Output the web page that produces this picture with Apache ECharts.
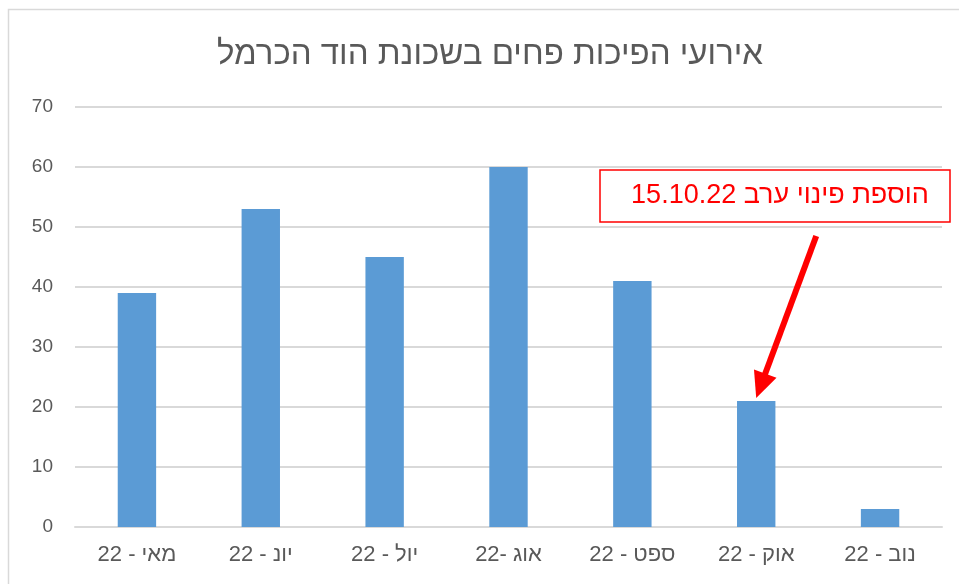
<!DOCTYPE html>
<html>
<head>
<meta charset="utf-8">
<script src="https://cdn.jsdelivr.net/npm/echarts@6/dist/echarts.min.js"></script>
<style>
  html, body { margin: 0; padding: 0; background: #fff; }
  #chart { width: 959px; height: 584px; }
</style>
</head>
<body>
<div id="chart"></div>
<script>
// months (Hebrew), values
var categories = ['מאי - 22', 'יונ - 22', 'יול - 22', 'אוג -22', 'ספט - 22', 'אוק - 22', 'נוב - 22']
var values = [39, 53, 45, 60, 41, 21, 3]
var yTicks = [0, 10, 20, 30, 40, 50, 60, 70]
var titleText = 'אירועי הפיכות פחים בשכונת הוד הכרמל'
var noteText = 'הוספת פינוי ערב 15.10.22'
var noteIndex = 5 // אוק - 22

var font = "'Liberation Sans', 'DejaVu Sans', sans-serif"
var chart = echarts.init(document.getElementById('chart'))

chart.setOption({
  animation: false,
  grid: { left: 75, right: 17, top: 107, bottom: 57 },
  xAxis: {
    type: 'category',
    data: categories,
    axisTick: { show: false },
    axisLine: { lineStyle: { color: '#d9d9d9', width: 2 } },
    axisLabel: { fontFamily: font, fontSize: 22, color: '#595959', margin: 17 }
  },
  yAxis: {
    type: 'value',
    min: yTicks[0],
    max: yTicks[yTicks.length - 1],
    interval: 10,
    axisLine: { show: false },
    axisTick: { show: false },
    splitLine: { lineStyle: { color: '#d9d9d9', width: 2 } },
    axisLabel: { fontFamily: font, fontSize: 19, color: '#595959', margin: 22 }
  },
  series: [{
    type: 'bar',
    data: values,
    barWidth: '31%',
    itemStyle: { color: '#5b9bd5' }
  }]
})

// annotation: red box + arrow pointing at the October bar
var tip = chart.convertToPixel({ gridIndex: 0 }, [noteIndex, values[noteIndex] + 0.5])
var start = chart.convertToPixel({ gridIndex: 0 }, [noteIndex, 48.5])
start[0] += 60
var dx = tip[0] - start[0], dy = tip[1] - start[1]
var len = Math.sqrt(dx * dx + dy * dy)
var ux = dx / len, uy = dy / len
var headLen = 26, headW = 12
var bx = tip[0] - ux * headLen, by = tip[1] - uy * headLen

chart.setOption({
  graphic: [
    {
      type: 'rect',
      shape: { x: 8.5, y: 9.5, width: 1000, height: 1000 },
      style: { fill: 'none', stroke: '#d9d9d9', lineWidth: 1.5 },
      silent: true
    },
    {
      type: 'text',
      x: 490,
      y: 55,
      style: {
        text: titleText,
        fontFamily: font,
        fontSize: 33,
        fill: '#595959',
        align: 'center',
        verticalAlign: 'middle'
      }
    },
    {
      type: 'line',
      shape: { x1: start[0], y1: start[1], x2: bx + ux * 2, y2: by + uy * 2 },
      style: { stroke: '#ff0000', lineWidth: 6 }
    },
    {
      type: 'polygon',
      shape: { points: [
        [tip[0], tip[1]],
        [bx - uy * headW, by + ux * headW],
        [bx + uy * headW, by - ux * headW]
      ] },
      style: { fill: '#ff0000' }
    },
    {
      type: 'rect',
      shape: { x: 600, y: 170, width: 350, height: 52 },
      style: { fill: '#fff', stroke: '#ff0000', lineWidth: 1.5 }
    },
    {
      type: 'text',
      x: 780,
      y: 196,
      style: {
        text: noteText,
        fontFamily: font,
        fontSize: 27,
        fill: '#ff0000',
        align: 'center',
        verticalAlign: 'middle'
      }
    }
  ]
})
</script>
</body>
</html>
